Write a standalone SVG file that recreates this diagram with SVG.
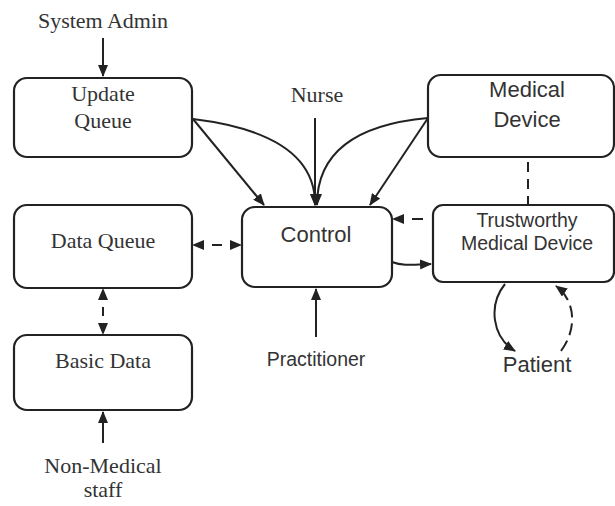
<svg xmlns="http://www.w3.org/2000/svg" width="615" height="506" viewBox="0 0 615 506">
<style>
.box{fill:#fff;stroke:#222;stroke-width:2.2}
.serif{font-family:"Liberation Serif","Times New Roman",serif;font-size:22px;fill:#333;text-anchor:middle}
.sans{font-family:"Liberation Sans",Arial,sans-serif;font-size:22px;fill:#333;text-anchor:middle}
.small{font-size:19.5px}
.ln{fill:none;stroke:#222;stroke-width:2}
</style>
<defs>
<marker id="ah" markerUnits="userSpaceOnUse" markerWidth="12" markerHeight="10" refX="11" refY="5" orient="auto-start-reverse">
<path d="M0,0 L12,5 L0,10 z" fill="#222"/>
</marker>
</defs>
<rect width="615" height="506" fill="#fff"/>
<g id="connectors">
<path class="ln" d="M103,38 V76" marker-end="url(#ah)"/>
<path class="ln" d="M193,119 L264,205" marker-end="url(#ah)"/>
<path class="ln" d="M193,119 Q316,134 315,205" marker-end="url(#ah)"/>
<path class="ln" d="M315,118 V205" marker-end="url(#ah)"/>
<path class="ln" d="M428,118 Q317,128 317,205" marker-end="url(#ah)"/>
<path class="ln" d="M428,118 L370,205" marker-end="url(#ah)"/>
<path class="ln" d="M528,157 V205" stroke-dasharray="10,7" stroke-dashoffset="12"/>
<path class="ln" d="M433,219 H393" stroke-dasharray="0,10,11,60" marker-end="url(#ah)"/>
<path class="ln" d="M392,262 C402,266 410,265 431,264" marker-end="url(#ah)"/>
<path class="ln" d="M193,245 H241" stroke-dasharray="0,19,10,60" marker-start="url(#ah)" marker-end="url(#ah)"/>
<path class="ln" d="M103,289 V334" stroke-dasharray="0,18,9,60" marker-start="url(#ah)" marker-end="url(#ah)"/>
<path class="ln" d="M103,443 V412" marker-end="url(#ah)"/>
<path class="ln" d="M316,337 V289" marker-end="url(#ah)"/>
<path class="ln" d="M505,284 C488,305 492,337 515,351" marker-end="url(#ah)"/>
<path class="ln" d="M561,351 C578,328 575,300 556,286" stroke-dasharray="12,6" marker-end="url(#ah)"/>
</g>
<g id="system-admin"><text class="serif" x="103" y="28">System Admin</text></g>
<g id="update-queue"><rect class="box" x="14" y="78" width="178" height="79" rx="13"/><text class="serif" x="103" y="101">Update</text><text class="serif" x="103" y="128">Queue</text></g>
<g id="nurse"><text class="serif" x="317" y="102">Nurse</text></g>
<g id="medical-device"><rect class="box" x="428" y="75" width="186" height="82" rx="13"/><text class="sans" x="527" y="97">Medical</text><text class="sans" x="527" y="127">Device</text></g>
<g id="data-queue"><rect class="box" x="14" y="205" width="178" height="83" rx="13"/><text class="serif" x="103" y="248">Data Queue</text></g>
<g id="control"><rect class="box" x="242" y="207" width="150" height="80" rx="13"/><text class="sans" x="316" y="242">Control</text></g>
<g id="trustworthy"><rect class="box" x="433" y="205" width="181" height="77" rx="10"/><text class="sans small" x="527" y="227">Trustworthy</text><text class="sans small" x="527" y="250">Medical Device</text></g>
<g id="basic-data"><rect class="box" x="14" y="335" width="178" height="75" rx="13"/><text class="serif" x="103" y="368">Basic Data</text></g>
<g id="practitioner"><text class="sans small" x="316" y="366">Practitioner</text></g>
<g id="patient"><text class="sans" x="537" y="372">Patient</text></g>
<g id="non-medical"><text class="serif" x="103" y="473">Non-Medical</text><text class="serif" x="103" y="497">staff</text></g>
</svg>
